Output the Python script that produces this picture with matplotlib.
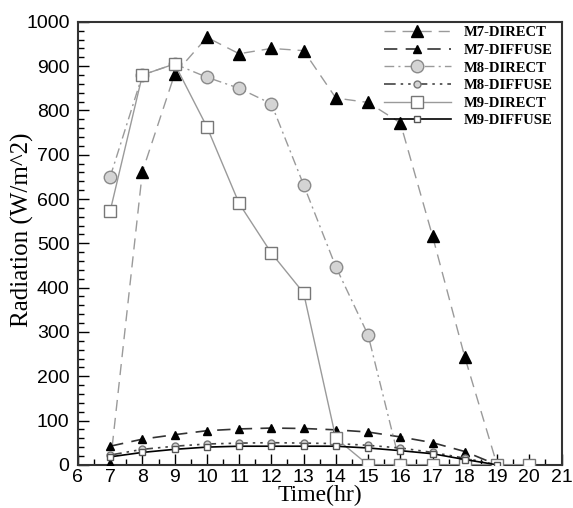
import matplotlib
matplotlib.use("Agg")
import matplotlib.pyplot as plt
from matplotlib.ticker import MultipleLocator

# data
hours = [7, 8, 9, 10, 11, 12, 13, 14, 15, 16, 17, 18, 19, 20]

m7_direct_t = [7, 8, 9, 10, 11, 12, 13, 14, 15, 16, 17, 18, 19]
m7_direct = [0, 662, 882, 965, 928, 940, 935, 828, 818, 772, 516, 243, 0]

m7_diffuse_t = [7, 8, 9, 10, 11, 12, 13, 14, 15, 16, 17, 18, 19]
m7_diffuse = [42, 58, 68, 77, 81, 83, 82, 79, 74, 63, 50, 30, 0]

m8_direct_t = [7, 8, 9, 10, 11, 12, 13, 14, 15, 16]
m8_direct = [650, 880, 905, 875, 850, 815, 632, 447, 293, 0]

m8_diffuse_t = [7, 8, 9, 10, 11, 12, 13, 14, 15, 16, 17, 18, 19]
m8_diffuse = [22, 35, 42, 47, 49, 50, 49, 48, 44, 38, 28, 15, 0]

m9_direct_t = hours
m9_direct = [573, 880, 905, 763, 590, 478, 388, 60, 0, 0, 0, 0, 0, 0]

m9_diffuse_t = [7, 8, 9, 10, 11, 12, 13, 14, 15, 16, 17, 18, 19]
m9_diffuse = [18, 28, 35, 40, 42, 42, 42, 42, 38, 32, 25, 12, 0]

fig = plt.figure(figsize=(5.73, 5.08), dpi=100)
ax = fig.add_axes([0.136, 0.085, 0.844, 0.872])

ax.plot(m7_direct_t, m7_direct, color="#9a9a9a", lw=1.0, ls=(0, (8, 5)),
        marker="^", ms=9, mfc="black", mec="black", label="M7-DIRECT", zorder=3)
ax.plot(m7_diffuse_t, m7_diffuse, color="#333333", lw=1.2, ls=(0, (8, 5)),
        marker="^", ms=5.5, mfc="black", mec="black", label="M7-DIFFUSE", zorder=3)
ax.plot(m8_direct_t, m8_direct, color="#9a9a9a", lw=1.0, ls=(0, (7, 3, 1.5, 3)),
        marker="o", ms=9, mfc="#d4d4d4", mec="#8a8a8a", label="M8-DIRECT", zorder=3)
ax.plot(m8_diffuse_t, m8_diffuse, color="#444444", lw=1.2, ls=(0, (7, 3, 1.5, 3, 1.5, 3)),
        marker="o", ms=5, mfc="#d4d4d4", mec="#777777", label="M8-DIFFUSE", zorder=3)
ax.plot(m9_direct_t, m9_direct, color="#9a9a9a", lw=1.0, ls="-",
        marker="s", ms=8.5, mfc="white", mec="#777777", label="M9-DIRECT", zorder=3)
ax.plot(m9_diffuse_t, m9_diffuse, color="black", lw=1.2, ls="-",
        marker="s", ms=5, mfc="white", mec="#555555", label="M9-DIFFUSE", zorder=3)

ax.set_xlim(6, 21)
ax.set_ylim(0, 1000)
ax.xaxis.set_major_locator(MultipleLocator(1))
ax.xaxis.set_minor_locator(MultipleLocator(0.5))
ax.yaxis.set_major_locator(MultipleLocator(100))
ax.yaxis.set_minor_locator(MultipleLocator(20))
ax.tick_params(which="both", direction="in", top=False, right=False,
               labelsize=14, width=1)
ax.tick_params(axis="y", which="major", length=8, pad=6)
ax.tick_params(axis="x", which="major", length=8, pad=3)
ax.tick_params(which="minor", length=4)
for lab in ax.get_xticklabels() + ax.get_yticklabels():
    lab.set_fontfamily("Liberation Sans")
for sp in ax.spines.values():
    sp.set_linewidth(1.5)
    sp.set_color("#333333")

ax.set_xlabel("Time(hr)", fontfamily="Liberation Serif", fontsize=17, labelpad=-1)
ax.set_ylabel("Radiation (W/m^2)", fontfamily="Liberation Serif", fontsize=18)
ax.yaxis.set_label_coords(-0.09, 0.53)

leg = ax.legend(loc="upper right", bbox_to_anchor=(1.0, 1.01), frameon=False,
                prop={"family": "Liberation Serif", "weight": "bold", "size": 10.5},
                handlelength=4.6, handletextpad=0.9, labelspacing=0.3,
                borderaxespad=0.2)

fig.savefig("out.png", dpi=100)
